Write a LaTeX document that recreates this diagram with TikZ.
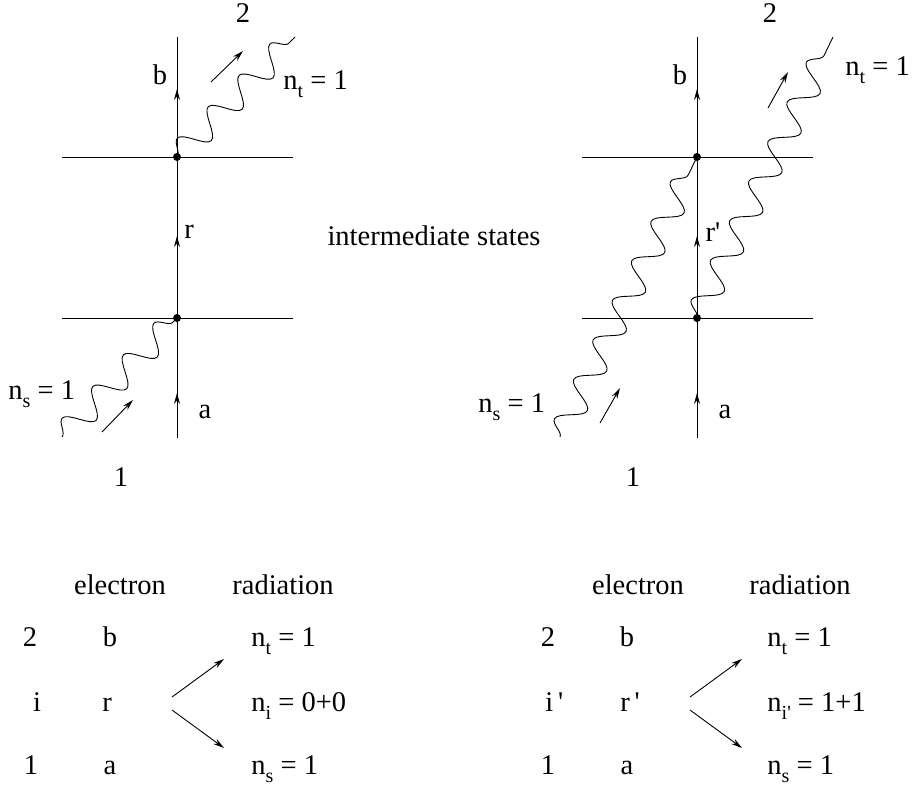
\documentclass[tikz,border=0pt]{standalone}
\usepackage{fontspec}
\setmainfont{Liberation Serif}
\usetikzlibrary{arrows.meta, decorations.pathmorphing, decorations.markings}
\newcommand{\pr}{\textquotesingle}
\newcommand{\nsub}[1]{n\raisebox{-0.3em}{\fontsize{20}{20}\selectfont #1}}

\begin{document}
\begin{tikzpicture}[x=1pt, y=-1pt, line width=0.9pt,
    lbl/.style={font=\fontsize{28.5}{34}\selectfont, inner sep=0pt},
    vtx/.style={circle, fill, inner sep=0pt, minimum size=8pt},
    photon/.style={decorate, decoration={snake, amplitude=13pt,
                   segment length=44pt}},
    elec/.style={postaction={decorate}, decoration={markings,
        mark=at position 45pt with {\arrow{Stealth[length=11pt,width=6pt]}},
        mark=at position 202pt with {\arrow{Stealth[length=11pt,width=6pt]}},
        mark=at position 349pt with {\arrow{Stealth[length=11pt,width=6pt]}}}},
    dir/.style={-{Stealth[length=11pt,width=6pt]}},
  ]
    \useasboundingbox (0,0) rectangle (912,787);

    % left diagram
    \coordinate (la) at (177,438);
    \coordinate (lb) at (177,37);
    \coordinate (l1w) at (62,318);
    \coordinate (l1e) at (293,318);
    \coordinate (l2w) at (62,157);
    \coordinate (l2e) at (293,157);
    \coordinate (lin) at (62,437);
    \coordinate (lout) at (295,37);
    \draw (l1w) -- (l1e);
    \draw (l2w) -- (l2e);
    \draw[elec] (la) -- (lb);
    \node[vtx] (lv1) at (177,318) {};
    \node[vtx] (lv2) at (177,157) {};
    \draw[photon] (lin) -- (lv1.center);
    \draw[photon] (lv2.center) -- (lout);
    \coordinate (lk1) at (102,432);
    \coordinate (lk1t) at (133,400);
    \coordinate (lk2) at (211,82);
    \coordinate (lk2t) at (243,51);
    \draw[dir] (lk1) -- (lk1t);
    \draw[dir] (lk2) -- (lk2t);
    \node[lbl] (ltwo) at (243,13) {2};
    \node[lbl] (lone) at (121,477) {1};
    \node[lbl] (lbl-b) at (160,75) {b};
    \node[lbl] (lbl-r) at (189,232) {r};
    \node[lbl] (lbl-a) at (205,412) {a};
    \node[lbl, anchor=base west] (lnt) at (283,89) {\nsub{t} = 1};
    \node[lbl, anchor=base west] (lns) at (8,399) {\nsub{s} = 1};

    \node[lbl] (mid) at (434,236) {intermediate states};

    % right diagram
    \coordinate (ra) at (697,438);
    \coordinate (rb) at (697,37);
    \coordinate (r1w) at (582,318);
    \coordinate (r1e) at (813,318);
    \coordinate (r2w) at (582,157);
    \coordinate (r2e) at (813,157);
    \coordinate (rin) at (560,437);
    \coordinate (rout) at (833,37);
    \draw (r1w) -- (r1e);
    \draw (r2w) -- (r2e);
    \draw[elec] (ra) -- (rb);
    \node[vtx] (rv1) at (697,318) {};
    \node[vtx] (rv2) at (697,157) {};
    \draw[photon] (rin) -- (rv2.center);
    \draw[photon] (rv1.center) -- (rout);
    \coordinate (rk1) at (600,423);
    \coordinate (rk1t) at (620,388);
    \coordinate (rk2) at (768,108);
    \coordinate (rk2t) at (788,72);
    \draw[dir] (rk1) -- (rk1t);
    \draw[dir] (rk2) -- (rk2t);
    \node[lbl] (rtwo) at (770,13) {2};
    \node[lbl] (rone) at (633,477) {1};
    \node[lbl] (rbl-b) at (680,75) {b};
    \node[lbl] (rbl-r) at (713,232) {r\pr};
    \node[lbl] (rbl-a) at (725,412) {a};
    \node[lbl, anchor=base west] (rnt) at (845,75) {\nsub{t} = 1};
    \node[lbl, anchor=base west] (rns) at (478,412) {\nsub{s} = 1};

    % left table
    \node[lbl, anchor=base] (lel) at (120,594) {electron};
    \node[lbl, anchor=base] (lra) at (283,594) {radiation};
    \node[lbl, anchor=base] (lr1) at (30,646) {2};
    \node[lbl, anchor=base] (lr2) at (37,711) {i};
    \node[lbl, anchor=base] (lr3) at (31,774) {1};
    \node[lbl, anchor=base] (le1) at (110,646) {b};
    \node[lbl, anchor=base] (le2) at (107,711) {r};
    \node[lbl, anchor=base] (le3) at (110,774) {a};
    \node[lbl, anchor=base west] (lq1) at (251,646) {\nsub{t} = 1};
    \node[lbl, anchor=base west] (lq2) at (251,711) {\nsub{i} = 0+0};
    \node[lbl, anchor=base west] (lq3) at (251,774) {\nsub{s} = 1};
    \coordinate (lfork1) at (172,697);
    \coordinate (lfork2) at (172,710);
    \coordinate (lup) at (224,659);
    \coordinate (ldn) at (224,748);
    \draw[dir] (lfork1) -- (lup);
    \draw[dir] (lfork2) -- (ldn);

    % right table
    \node[lbl, anchor=base] (rel) at (638,594) {electron};
    \node[lbl, anchor=base] (rra) at (800,594) {radiation};
    \node[lbl, anchor=base] (rr1) at (548,646) {2};
    \node[lbl, anchor=base west] (rr2) at (545,711) {i\,\pr};
    \node[lbl, anchor=base] (rr3) at (548,774) {1};
    \node[lbl, anchor=base] (re1) at (627,646) {b};
    \node[lbl, anchor=base west] (re2) at (620,711) {r\,\pr};
    \node[lbl, anchor=base] (re3) at (627,774) {a};
    \node[lbl, anchor=base west] (rq1) at (767,646) {\nsub{t} = 1};
    \node[lbl, anchor=base west] (rq2) at (767,711) {\nsub{i\pr} = 1+1};
    \node[lbl, anchor=base west] (rq3) at (767,774) {\nsub{s} = 1};
    \coordinate (rfork1) at (690,697);
    \coordinate (rfork2) at (690,710);
    \coordinate (rup) at (742,659);
    \coordinate (rdn) at (742,748);
    \draw[dir] (rfork1) -- (rup);
    \draw[dir] (rfork2) -- (rdn);
  \end{tikzpicture}
\end{document}
